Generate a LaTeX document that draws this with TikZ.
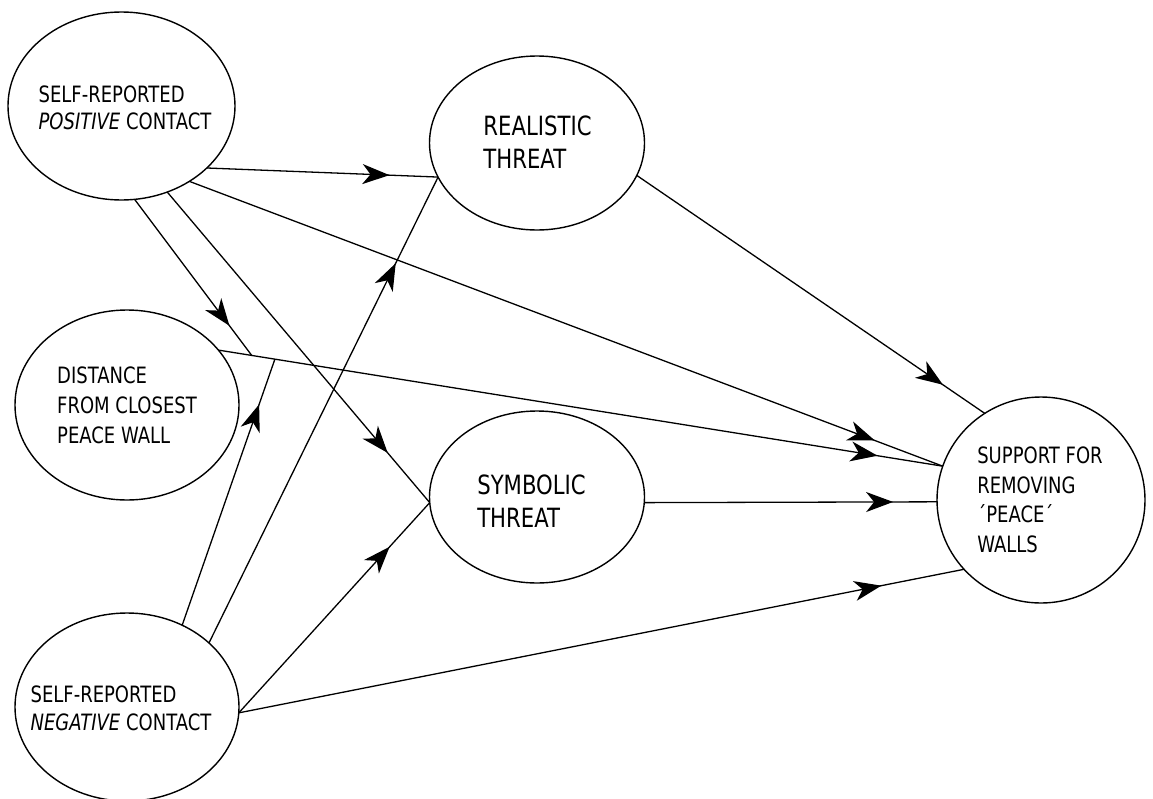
\documentclass[tikz,border=0pt]{standalone}
\usepackage{fontspec}
\setmainfont{DejaVu Sans}[FakeStretch=0.8]
\usetikzlibrary{arrows.meta,decorations.markings,calc,shapes.geometric}
\tikzset{
  var/.style={draw,ellipse,line width=1.4pt,inner sep=0pt,outer sep=0pt},
  lbl/.style={align=left,inner sep=0pt,font=\fontsize{22.5}{#1}\selectfont},
  lbl/.default=28,
  biglbl/.style={align=left,inner sep=0pt,font=\fontsize{26.5}{33}\selectfont},
  effect/.style={line width=1.3pt,postaction={decorate},
    decoration={markings,mark=at position #1 with {\arrow{Stealth[length=27pt,width=20pt,inset=8pt]}}}}
}
\begin{document}
\begin{tikzpicture}[x=1pt,y=-1pt]
                \useasboundingbox (0,0) rectangle (1153,798);
                \node[var,minimum width=227pt,minimum height=188pt] (pos) at (121.5,106) {};
                \node[var,minimum width=224pt,minimum height=190pt] (dist) at (127,405) {};
                \node[var,minimum width=224pt,minimum height=188pt] (neg) at (127,707) {};
                \node[var,minimum width=215pt,minimum height=174pt] (real) at (537,143) {};
                \node[var,minimum width=215pt,minimum height=172pt] (sym) at (537,497) {};
                \node[var,minimum width=208pt,minimum height=206pt] (sup) at (1041,500) {};
                \node[lbl=27] (posl) at (125,108) {SELF-REPORTED\\\textit{POSITIVE} CONTACT};
                \node[lbl=30] (distl) at (127,405) {DISTANCE\\FROM CLOSEST\\PEACE WALL};
                \node[lbl] (negl) at (121,708) {SELF-REPORTED\\\textit{NEGATIVE} CONTACT};
                \node[biglbl] (reall) at (537.5,142) {REALISTIC\\THREAT};
                \node[biglbl] (syml) at (531.5,501) {SYMBOLIC\\THREAT};
                \node[lbl=29.5] (supl) at (1040,500) {SUPPORT FOR\\REMOVING\\´PEACE´\\WALLS};
                \draw[effect=0.79] (pos.-36) -- (real.199);
                \draw[effect=0.91] (pos.-48) -- (sup.161);
                \draw[effect=0.84] (pos.-62) -- (sym.183);
                \draw[effect=0.88] (real.-18) -- (sup.123);
                \draw[effect=0.85] (sym.-3) -- (sup.181);
                \draw[effect=0.91] (dist.31) -- (sup.161);
                \coordinate (modpos) at ($(dist.31)!0.046!(sup.161)$);
                \coordinate (modneg) at ($(dist.31)!0.078!(sup.161)$);
                \draw[effect=0.81] (pos.-82) -- (modpos);
                \draw[effect=0.83] (neg.56) -- (modneg);
                \draw[effect=0.815] (neg.38) -- (real.199);
                \draw[effect=0.79] (neg.-3) -- (sym.183);
                \draw[effect=0.886] (neg.-3) -- (sup.222);
            \end{tikzpicture}
\end{document}
